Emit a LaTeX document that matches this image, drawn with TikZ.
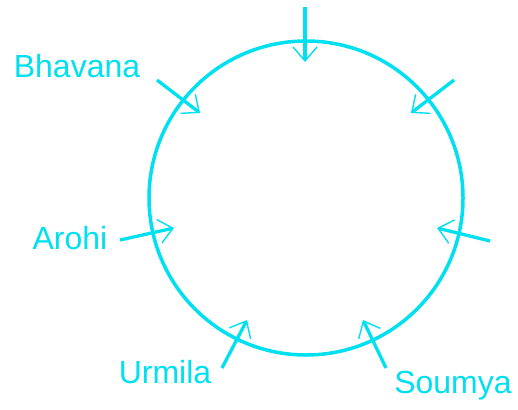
\documentclass[tikz,border=0pt]{standalone}
\usepackage{fontspec}
\setmainfont{Liberation Sans}
\usetikzlibrary{arrows.meta}
\definecolor{cy}{RGB}{0,224,240}
\begin{document}
\begin{tikzpicture}[x=1pt,y=-1pt,
  ring/.style={draw=cy,line width=3.5pt},
  arr/.style={draw=cy,line width=3.3pt,-{Straight Barb[length=14pt,width=24pt,line width=1.4pt]}},
  lbl/.style={text=cy,font=\fontsize{32}{38}\selectfont,inner sep=0pt}]
\useasboundingbox (0,0) rectangle (518,409);
\node[ring,circle,minimum size=314pt,inner sep=0pt] (c) at (306,198) {};
\coordinate (s1) at (305,7);   \coordinate (t1) at (305,62);
\coordinate (s2) at (157,80);  \coordinate (t2) at (200,113);
\coordinate (s3) at (454,80);  \coordinate (t3) at (411,113);
\coordinate (s4) at (120,240); \coordinate (t4) at (174,228);
\coordinate (s5) at (490,241); \coordinate (t5) at (437,228);
\coordinate (s6) at (222,368); \coordinate (t6) at (247,320);
\coordinate (s7) at (386,368); \coordinate (t7) at (363,320);
\foreach \i in {1,...,7} \draw[arr] (s\i) -- (t\i);
\node[lbl] (bh) at (77,66) {Bhavana};
\node[lbl] (ar) at (70,238) {Arohi};
\node[lbl] (ur) at (165,372) {Urmila};
\node[lbl] (so) at (453,386) {Soumya};
\end{tikzpicture}
\end{document}
